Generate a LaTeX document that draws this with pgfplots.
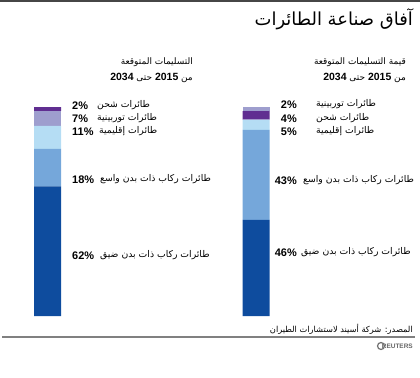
\documentclass[border=0pt]{standalone}
\usepackage{fontspec}
\usepackage{pgfplots}
\pgfplotsset{compat=1.18}
\setmainfont{Liberation Sans}
\newfontfamily\arabicfont[Script=Arabic]{DejaVu Sans}
\TeXXeTstate=1
\definecolor{cdark}{RGB}{14,76,158}
\definecolor{cmed}{RGB}{117,167,218}
\definecolor{clight}{RGB}{181,221,244}
\definecolor{clav}{RGB}{158,158,206}
\definecolor{cpurp}{RGB}{96,46,145}
\definecolor{topline}{RGB}{70,70,70}
\newcommand{\lab}{\arabicfont\fontsize{9.3}{11}\selectfont}
\newcommand{\hdr}{\arabicfont\fontsize{9}{10}\selectfont}
\newcommand{\pct}{\bfseries\fontsize{11}{13}\selectfont}
\newcommand{\yr}{\rmfamily\bfseries\fontsize{10.5}{12}\selectfont}
\begin{document}
\begin{tikzpicture}
\path[use as bounding box] (0,0) rectangle (420bp,-378bp);
\fill[topline] (0,0) rectangle (420bp,-2bp);
\begin{axis}[at={(0,-316bp)}, anchor=origin, scale only axis, width=420bp, height=209bp,
  xmin=0, xmax=420, ymin=0, ymax=100, hide axis, ybar stacked, bar width=27bp, clip=false]
\addplot[fill=cdark, draw=none] coordinates {(47.5,62) (256,46)};
\addplot[fill=cmed, draw=none] coordinates {(47.5,18) (256,43)};
\addplot[fill=clight, draw=none] coordinates {(47.5,11) (256,5)};
\addplot[fill=clav, draw=none] coordinates {(47.5,7) (256,0)};
\addplot[fill=cpurp, draw=none] coordinates {(47.5,2) (256,4)};
\addplot[fill=clav, draw=none] coordinates {(47.5,0) (256,2)};
\end{axis}
\begin{scope}[every node/.style={inner sep=0pt}]
% title
\node[anchor=east, font=\arabicfont\fontsize{18}{21}\selectfont] at (413bp,-19bp) {\beginR آفاق صناعة الطائرات\endR};
% headers
\node[anchor=east, font=\hdr] at (406bp,-62bp) {\beginR قيمة التسليمات المتوقعة\endR};
\node[anchor=east, font=\hdr] at (406bp,-78bp) {\beginR من {\yr 2015} حتى {\yr 2034}\endR};
\node[anchor=east, font=\hdr] at (193bp,-62bp) {\beginR التسليمات المتوقعة\endR};
\node[anchor=east, font=\hdr] at (193bp,-78bp) {\beginR من {\yr 2015} حتى {\yr 2034}\endR};
% left labels
\node[anchor=west, font=\pct] at (72bp,-106bp) {2\%};
\node[anchor=west, font=\pct] at (72bp,-119bp) {7\%};
\node[anchor=west, font=\pct] at (72bp,-132bp) {11\%};
\node[anchor=west, font=\pct] at (72bp,-180bp) {18\%};
\node[anchor=west, font=\pct] at (72bp,-256bp) {62\%};
\node[anchor=west, font=\lab] at (97bp,-105bp) {\beginR طائرات شحن\endR};
\node[anchor=west, font=\lab] at (97bp,-118bp) {\beginR طائرات توربينية\endR};
\node[anchor=west, font=\lab] at (99bp,-131bp) {\beginR طائرات إقليمية\endR};
\node[anchor=west, font=\lab] at (100bp,-179bp) {\beginR طائرات ركاب ذات بدن واسع\endR};
\node[anchor=west, font=\lab] at (100bp,-255bp) {\beginR طائرات ركاب ذات بدن ضيق\endR};
% right labels
\node[anchor=east, font=\pct] at (297bp,-105bp) {2\%};
\node[anchor=east, font=\pct] at (297bp,-119bp) {4\%};
\node[anchor=east, font=\pct] at (297bp,-132bp) {5\%};
\node[anchor=east, font=\pct] at (297bp,-181bp) {43\%};
\node[anchor=east, font=\pct] at (297bp,-253bp) {46\%};
\node[anchor=west, font=\lab] at (316bp,-104bp) {\beginR طائرات توربينية\endR};
\node[anchor=west, font=\lab] at (316bp,-118bp) {\beginR طائرات شحن\endR};
\node[anchor=west, font=\lab] at (316bp,-131bp) {\beginR طائرات إقليمية\endR};
\node[anchor=west, font=\lab] at (303bp,-180bp) {\beginR طائرات ركاب ذات بدن واسع\endR};
\node[anchor=west, font=\lab] at (301bp,-252bp) {\beginR طائرات ركاب ذات بدن ضيق\endR};
% source
\node[anchor=east, font=\arabicfont\fontsize{8.3}{10}\selectfont] at (413bp,-329bp) {\beginR المصدر: شركة أسيند لاستشارات الطيران\endR};
\node[anchor=east, font=\bfseries\fontsize{6.5}{8}\selectfont, text=black!60] at (413bp,-346bp) {REUTERS};
\end{scope}
\draw[black!50, line width=1.5bp] (2bp,-337bp) -- (415bp,-337bp);
\draw[black!55, line width=1.2bp] (381bp,-346bp) circle (3.5bp);
\fill[white] (381bp,-346bp) circle (1.2bp);
\end{tikzpicture}
\end{document}
